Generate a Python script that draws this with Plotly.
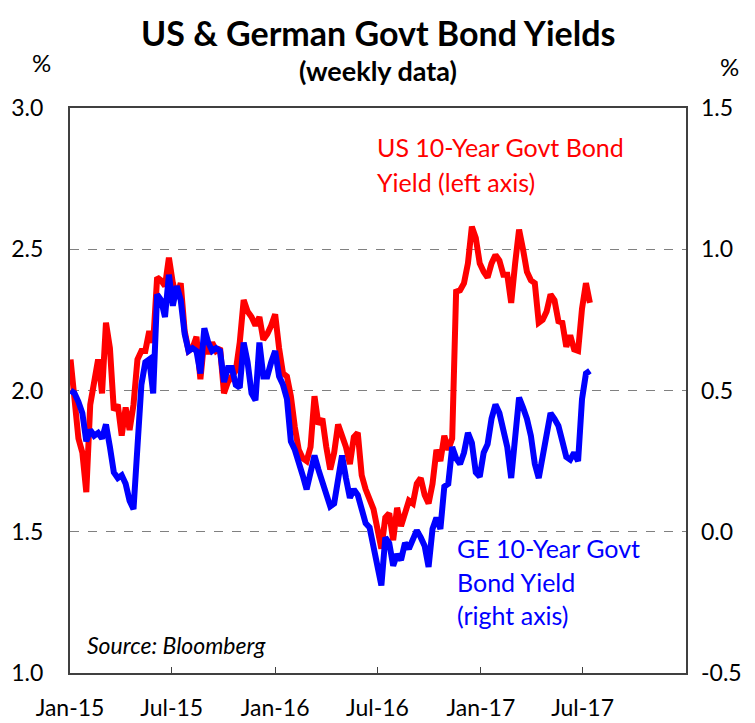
import pandas as pd
import plotly.graph_objects as go

# weekly data, Fridays from 2 Jan 2015
start_date = "2015-01-02"

us_10y = [
    2.11, 1.98, 1.83, 1.78, 1.64, 1.95, 2.04, 2.11, 1.99, 2.24,
    2.15, 1.93, 1.95, 1.84, 1.94, 1.86, 1.95, 2.11, 2.14, 2.14,
    2.21, 2.17, 2.40, 2.39, 2.37, 2.47, 2.38, 2.33, 2.38, 2.21,
    2.14, 2.15, 2.19, 2.04, 2.18, 2.13, 2.17, 2.14, 2.15, 1.99,
    2.03, 2.05, 2.07, 2.17, 2.32, 2.28, 2.26, 2.23, 2.26, 2.18,
    2.20, 2.23, 2.27, 2.15, 2.06, 2.05, 1.98, 1.87, 1.79, 1.76,
    1.75, 1.80, 1.98, 1.88, 1.90, 1.80, 1.72, 1.78, 1.88, 1.84,
    1.80, 1.74, 1.835, 1.85, 1.70, 1.65, 1.62, 1.58, 1.51, 1.44,
    1.55, 1.565, 1.47, 1.585, 1.52, 1.56, 1.61, 1.60, 1.67, 1.69,
    1.63, 1.60, 1.67, 1.79, 1.75, 1.84, 1.79, 1.83, 2.35, 2.355,
    2.38, 2.45, 2.58, 2.54, 2.45, 2.42, 2.40, 2.45, 2.48, 2.46,
    2.41, 2.41, 2.31, 2.45, 2.57, 2.50, 2.42, 2.39, 2.38, 2.24,
    2.25, 2.28, 2.34, 2.32, 2.245, 2.24, 2.155, 2.195, 2.145, 2.14,
    2.29, 2.38, 2.31,
]

ge_10y = [
    0.50, 0.49, 0.46, 0.42, 0.32, 0.36, 0.34, 0.35, 0.33, 0.38,
    0.30, 0.21, 0.19, 0.20, 0.17, 0.11, 0.08, 0.30, 0.52, 0.60,
    0.61, 0.49, 0.84, 0.82, 0.76, 0.91, 0.80, 0.87, 0.82, 0.70,
    0.64, 0.65, 0.64, 0.56, 0.72, 0.67, 0.64, 0.65, 0.64, 0.53,
    0.58, 0.58, 0.52, 0.51, 0.67, 0.60, 0.49, 0.465, 0.67, 0.55,
    0.55, 0.60, 0.64, 0.55, 0.52, 0.47, 0.32, 0.29, 0.25, 0.20,
    0.15, 0.21, 0.27, 0.22, 0.18, 0.13, 0.09, 0.10, 0.18, 0.27,
    0.19, 0.12, 0.15, 0.13, 0.08, 0.03, 0.015, -0.05, -0.13, -0.19,
    -0.02, -0.04, -0.12, -0.08, -0.10, -0.04, -0.06, -0.03, 0.005, -0.02,
    -0.05, -0.125, 0.01, 0.05, 0.01, 0.16, 0.17, 0.30, 0.26, 0.24,
    0.28, 0.35, 0.315, 0.21, 0.195, 0.28, 0.31, 0.40, 0.45, 0.42,
    0.35, 0.30, 0.19, 0.35, 0.475, 0.44, 0.40, 0.34, 0.24, 0.19,
    0.26, 0.34, 0.42, 0.40, 0.375, 0.32, 0.265, 0.255, 0.28, 0.25,
    0.47, 0.56, 0.57,
]

tick_dates = ["2015-01-01", "2015-07-01", "2016-01-01", "2016-07-01", "2017-01-01", "2017-07-01"]
tick_labels = ["Jan-15", "Jul-15", "Jan-16", "Jul-16", "Jan-17", "Jul-17"]
left_ticks = [1.0, 1.5, 2.0, 2.5, 3.0]
right_ticks = [-0.5, 0.0, 0.5, 1.0, 1.5]
right_labels = ["-0.5", "0.0", "0.5", "1.0", "1.5"]

dates = pd.date_range(start_date, periods=len(us_10y), freq="W-FRI")

font = "Lato"

fig = go.Figure()
fig.add_trace(go.Scatter(x=dates, y=us_10y, mode="lines",
                         line=dict(color="#FF0000", width=6), yaxis="y"))
fig.add_trace(go.Scatter(x=dates[:len(ge_10y)], y=ge_10y, mode="lines",
                         line=dict(color="#0000FF", width=6), yaxis="y2"))

# page body has an 8px margin, so the figure is 8px smaller than the window
fig.update_layout(
    width=747, height=715,
    margin=dict(l=62, r=69, t=100, b=50),
    paper_bgcolor="white", plot_bgcolor="white",
    showlegend=False,
    font=dict(family=font, size=22, color="black"),
    xaxis=dict(
        range=["2015-01-01", "2018-01-01"],
        tickvals=tick_dates, ticktext=tick_labels,
        ticks="inside", ticklen=6, tickcolor="#404040",
        showline=True, linecolor="#404040", linewidth=2, mirror=True,
        showgrid=False, ticklabelstandoff=13, automargin=False,
        tickfont=dict(size=23),
    ),
    yaxis=dict(
        range=[1.0, 3.0], tickvals=left_ticks, tickformat=".1f",
        showline=True, linecolor="#404040", linewidth=2, mirror=True,
        showgrid=True, gridcolor="#808080", gridwidth=1, griddash="dash",
        ticks="", ticklabelstandoff=20, zeroline=False, automargin=False,
        tickfont=dict(size=23),
    ),
    yaxis2=dict(
        range=[-0.5, 1.5], tickvals=right_ticks, ticktext=right_labels,
        overlaying="y", side="right", showgrid=False, zeroline=False,
        ticks="", ticklabelstandoff=14, automargin=False,
        tickfont=dict(size=23),
    ),
)

annotations = [
    dict(text="<b>US & German Govt Bond Yields</b>", x=0.5, y=1.174, size=34, color="black", xanchor="center", yanchor="top"),
    dict(text="<b>(weekly data)</b>", x=0.5, y=1.066, size=27, color="black", xanchor="center", yanchor="middle"),
    dict(text="%", x=-0.047, y=1.08, size=24, color="black", xanchor="center", yanchor="middle"),
    dict(text="%", x=1.071, y=1.074, size=24, color="black", xanchor="center", yanchor="middle"),
    dict(text="US 10-Year Govt Bond", x=0.495, y=0.931, size=25, color="#FF0000", xanchor="left", yanchor="middle"),
    dict(text="Yield (left axis)", x=0.495, y=0.869, size=25, color="#FF0000", xanchor="left", yanchor="middle"),
    dict(text="GE 10-Year Govt", x=0.625, y=0.221, size=25, color="#0000FF", xanchor="left", yanchor="middle"),
    dict(text="Bond Yield", x=0.625, y=0.161, size=25, color="#0000FF", xanchor="left", yanchor="middle"),
    dict(text="(right axis)", x=0.625, y=0.103, size=25, color="#0000FF", xanchor="left", yanchor="middle"),
    dict(text="<i>Source: Bloomberg</i>", x=0.024, y=0.050, size=23, color="black", xanchor="left", yanchor="middle"),
]
for a in annotations:
    fig.add_annotation(text=a["text"], x=a["x"], y=a["y"], xref="paper", yref="paper",
                       xanchor=a["xanchor"], yanchor=a["yanchor"], showarrow=False,
                       font=dict(family=font, size=a["size"], color=a["color"]))

fig.write_html("out.html")
